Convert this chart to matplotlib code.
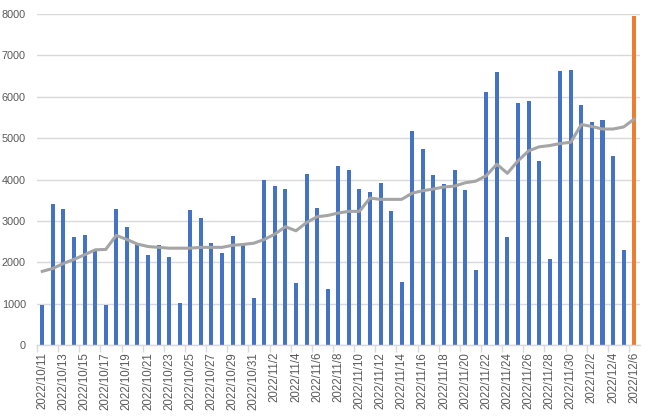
import matplotlib
matplotlib.use("Agg")
import matplotlib.pyplot as plt
import numpy as np
import datetime as dt

start = dt.date(2022, 10, 11)
dates = [start + dt.timedelta(days=i) for i in range(57)]
labels = [f"{d.year}/{d.month}/{d.day}" for d in dates]

values = [960, 3410, 3280, 2610, 2660, 2300, 970, 3290, 2850, 2460,
          2180, 2420, 2130, 1020, 3260, 3070, 2470, 2220, 2630, 2420,
          1140, 3990, 3840, 3770, 1500, 4130, 3310, 1350, 4330, 4230,
          3770, 3700, 3920, 3240, 1520, 5170, 4740, 4110, 3890, 4230,
          3750, 1810, 6110, 6600, 2610, 5850, 5900, 4450, 2080, 6620,
          6650, 5800, 5390, 5440, 4570, 2300, 7950]

avg7 = [1780, 1850, 1970, 2070, 2180, 2300, 2310, 2650, 2550, 2440,
        2380, 2360, 2340, 2340, 2340, 2360, 2360, 2360, 2410, 2430,
        2460, 2550, 2680, 2860, 2760, 2960, 3100, 3130, 3190, 3230,
        3230, 3550, 3520, 3520, 3520, 3670, 3730, 3770, 3820, 3840,
        3920, 3960, 4090, 4370, 4150, 4450, 4690, 4790, 4820, 4870,
        4900, 5330, 5280, 5220, 5220, 5270, 5460]

BLUE = "#4472C4"
ORANGE = "#ED7D31"
GRAY = "#A5A5A5"
TXT = "#595959"
GRID = "#D9D9D9"

plt.rcParams['font.family'] = ['Liberation Sans', 'DejaVu Sans']

fig = plt.figure(figsize=(6.48, 4.17), dpi=100)
ax = fig.add_axes([37/648, 1 - 345/417, (639.5 - 37)/648, (345 - 14)/417])

x = np.arange(len(values))
colors = [BLUE] * (len(values) - 1) + [ORANGE]
ax.bar(x, values, width=0.38, color=colors, zorder=2)
ax.plot(x, avg7, color=GRAY, linewidth=2.2, zorder=3, solid_joinstyle='round')

ax.set_xlim(-0.5, len(values) - 0.5)
ax.set_ylim(0, 8000)
ax.set_yticks(np.arange(0, 8001, 1000))
ax.yaxis.grid(True, color=GRID, linewidth=1)
ax.set_axisbelow(True)

ax.set_xticks(x[::2])
ax.set_xticklabels(labels[::2], rotation=90, fontsize=8.3, color=TXT)
ax.set_xticks(np.arange(-0.5, len(values), 2), minor=True)
ax.tick_params(axis='x', which='major', length=0, pad=5)
ax.tick_params(axis='x', which='minor', length=5, color=GRID, width=1)
ax.tick_params(axis='y', length=0, labelsize=7.8, labelcolor=TXT, pad=8)

for s in ['top', 'right', 'left']:
    ax.spines[s].set_visible(False)
ax.spines['bottom'].set_color(GRID)
ax.spines['bottom'].set_linewidth(1)

fig.savefig("out.png", dpi=100)
